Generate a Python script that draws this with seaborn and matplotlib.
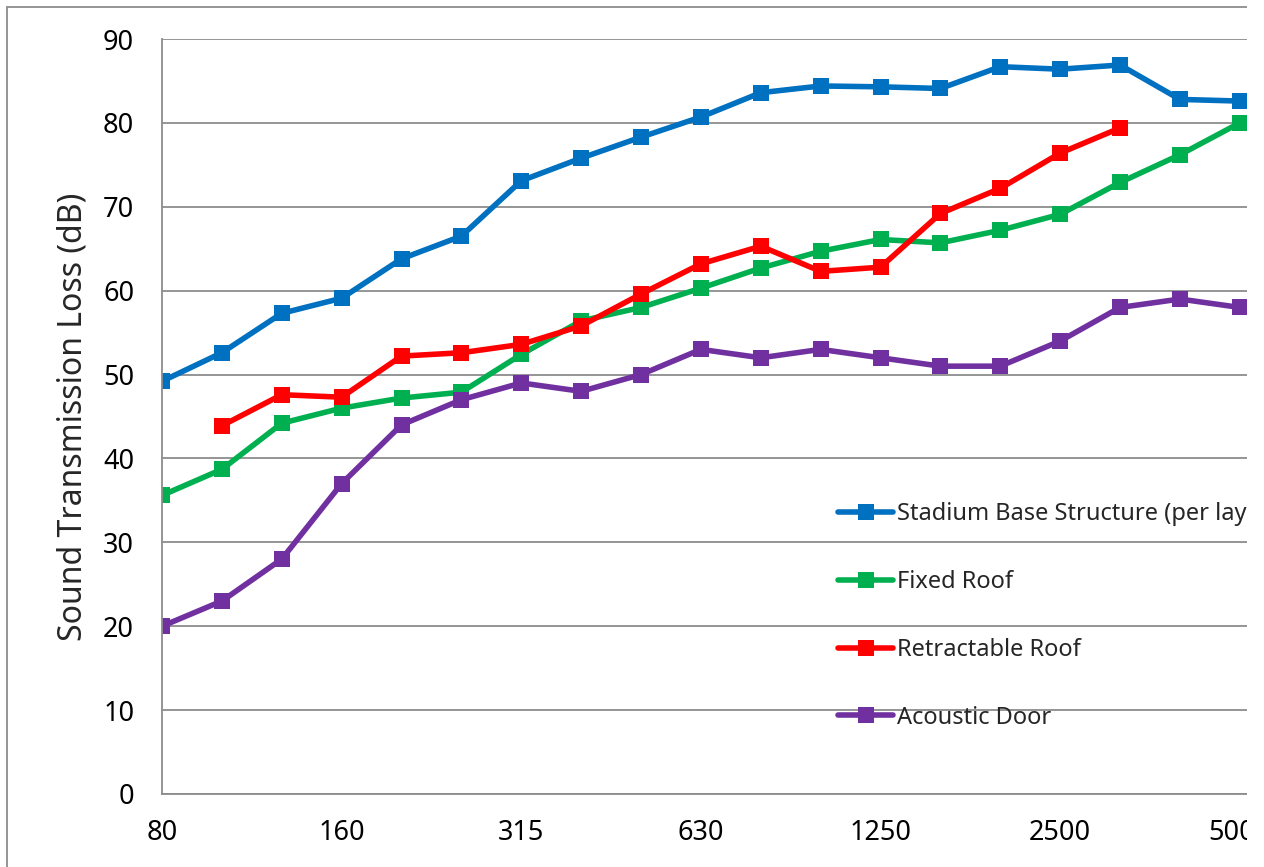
import matplotlib
matplotlib.use("Agg")
import matplotlib.pyplot as plt
from matplotlib.patches import Rectangle
import numpy as np
import pandas as pd
import seaborn as sns

# 1/3 octave band centre frequencies (Hz)
freqs = ['80', '100', '125', '160', '200', '250', '315', '400', '500', '630',
         '800', '1000', '1250', '1600', '2000', '2500', '3150', '4000', '5000']

stadium_base = [49.2, 52.6, 57.3, 59.1, 63.8, 66.5, 73.1, 75.8, 78.3, 80.7,
                83.6, 84.4, 84.3, 84.1, 86.7, 86.4, 86.9, 82.8, 82.6]
fixed_roof = [35.6, 38.7, 44.2, 46.0, 47.2, 47.9, 52.4, 56.4, 58.0, 60.3,
              62.7, 64.7, 66.1, 65.7, 67.2, 69.1, 72.9, 76.2, 80.0]
retractable_roof = [np.nan, 43.9, 47.6, 47.3, 52.2, 52.6, 53.6, 55.8, 59.6, 63.2,
                    65.3, 62.3, 62.8, 69.2, 72.2, 76.4, 79.4, np.nan, np.nan]
acoustic_door = [20, 23, 28, 37, 44, 47, 49, 48, 50, 53,
                 52, 53, 52, 51, 51, 54, 58, 59, 58]

series_names = ['Stadium Base Structure (per layer)', 'Fixed Roof',
                'Retractable Roof', 'Acoustic Door']
series_vals = [stadium_base, fixed_roof, retractable_roof, acoustic_door]
colors = ['#0070C0', '#00B050', '#FF0000', '#7030A0']

tick_labels_shown = ['80', '160', '315', '630', '1250', '2500', '5000']

sns.set_style('white')
plt.rcParams['font.family'] = ['Noto Sans', 'DejaVu Sans']

W, H = 1264, 867
fig = plt.figure(figsize=(W / 100, H / 100), dpi=100)
ax = fig.add_axes([162 / W, 1 - 794 / H, (1247 - 162) / W, (794 - 39) / H])

for name, vals, c in zip(series_names, series_vals, colors):
    df = pd.DataFrame({'freq': freqs, 'TL': vals}).dropna()
    sns.lineplot(data=df, x='freq', y='TL', ax=ax, color=c, linewidth=4,
                 marker='s', markersize=11.5, markeredgewidth=0, label=name,
                 solid_capstyle='round', sort=False)

ax.set_xlim(0, 18.12)
ax.set_ylim(0, 90)
ax.set_yticks(np.arange(0, 91, 10))
ax.set_xticks(range(len(freqs)))
ax.set_xticklabels([f if f in tick_labels_shown else '' for f in freqs])
ax.grid(axis='y', color='#8c8c8c', linewidth=1.3)
ax.grid(axis='x', visible=False)
for s in ['top', 'right']:
    ax.spines[s].set_visible(False)
for s in ['left', 'bottom']:
    ax.spines[s].set_color('#8c8c8c')
    ax.spines[s].set_linewidth(1.3)
ax.tick_params(axis='both', direction='out', length=8, width=1.3,
               color='#8c8c8c', labelsize=19.5, labelcolor='black')
ax.tick_params(axis='x', pad=10)
ax.tick_params(axis='y', pad=12)
ax.set_xlabel('')
ax.set_ylabel('Sound Transmission Loss (dB)', fontsize=23, labelpad=10)

leg = ax.legend(loc='upper left', bbox_to_anchor=(838 / W, 1 - 502 / H),
                bbox_transform=fig.transFigure, frameon=False, fontsize=17,
                handlelength=2.35, handletextpad=0.15, labelspacing=1.86,
                borderpad=0, borderaxespad=0)

# outer chart border (only left/top visible in the reference crop)
fig.add_artist(Rectangle((7 / W, -0.1), 2, 1 - 7 / H + 0.1,
                         transform=fig.transFigure, fill=False,
                         edgecolor='#8c8c8c', linewidth=1.3, zorder=0))
# right edge of the picture is clipped
fig.add_artist(Rectangle((1247 / W, 0), 1, 1, transform=fig.transFigure,
                         facecolor='white', edgecolor='none', zorder=100))

fig.savefig('out.png', dpi=100)
